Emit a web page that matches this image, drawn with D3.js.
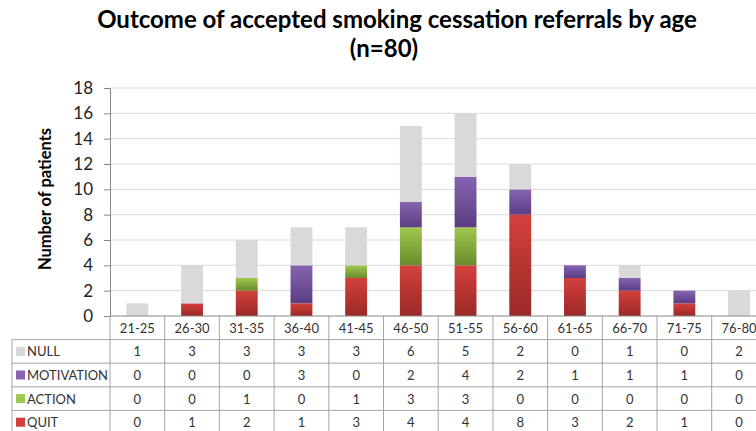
<!DOCTYPE html>
<html>
<head>
<meta charset="utf-8">
<script src="https://cdn.jsdelivr.net/npm/d3@7"></script>
<style>
  body { margin: 0; background: #fff; }
  svg { display: block; font-family: Lato, "Open Sans", sans-serif; }
</style>
</head>
<body>
<svg id="chart"></svg>
<script>
const categories = ["21-25", "26-30", "31-35", "36-40", "41-45", "46-50", "51-55", "56-60", "61-65", "66-70", "71-75", "76-80"];
const quitValues = [0, 1, 2, 1, 3, 4, 4, 8, 3, 2, 1, 0];
const actionValues = [0, 0, 1, 0, 1, 3, 3, 0, 0, 0, 0, 0];
const motivationValues = [0, 0, 0, 3, 0, 2, 4, 2, 1, 1, 1, 0];
const nullValues = [1, 3, 3, 3, 3, 6, 5, 2, 0, 1, 0, 2];
const yTicks = [0, 2, 4, 6, 8, 10, 12, 14, 16, 18];

// stacking order bottom -> top, table order top -> bottom
const seriesKeys = ["QUIT", "ACTION", "MOTIVATION", "NULL"];
const tableKeys = ["NULL", "MOTIVATION", "ACTION", "QUIT"];
const valuesByKey = {
    QUIT: quitValues, ACTION: actionValues, MOTIVATION: motivationValues, NULL: nullValues
};

const colors = {
    QUIT: ["#d3403c", "#9b2926"],
    ACTION: ["#a0c84e", "#6a8b2d"],
    MOTIVATION: ["#8763b0", "#5a3d83"],
    NULL: ["#d9d9d9", "#d9d9d9"]
};

const W = 756, H = 431;
const plotLeft = 110, plotBottom = 316, plotTop = 88;
const step = 54.7;
const rowH = 23.6;

const svg = d3.select("#chart").attr("width", W).attr("height", H);

const defs = svg.append("defs");
seriesKeys.forEach(k => {
    const g = defs.append("linearGradient")
        .attr("id", "grad-" + k)
        .attr("x1", 0).attr("y1", 0).attr("x2", 0).attr("y2", 1);
    g.append("stop").attr("offset", "0%").attr("stop-color", colors[k][0]);
    g.append("stop").attr("offset", "100%").attr("stop-color", colors[k][1]);
});

const rows = categories.map((c, i) => {
    const r = { cat: c };
    seriesKeys.forEach(k => r[k] = valuesByKey[k][i]);
    return r;
});
const stacked = d3.stack().keys(seriesKeys)(rows);

const x = d3.scaleBand()
    .domain(categories)
    .range([plotLeft, plotLeft + step * categories.length])
    .paddingInner(0.6)
    .paddingOuter(0.3);

const y = d3.scaleLinear().domain([0, 18]).range([plotBottom, plotTop]);

// title
svg.append("text")
    .attr("x", 397).attr("y", 28)
    .attr("text-anchor", "middle")
    .style("font-size", "24px").style("font-weight", "bold").style("fill", "#000")
    .text("Outcome of accepted smoking cessation referrals by age");
svg.append("text")
    .attr("x", 384).attr("y", 57)
    .attr("text-anchor", "middle")
    .style("font-size", "24px").style("font-weight", "bold").style("fill", "#000")
    .text("(n=80)");

// gridlines
svg.append("g")
    .selectAll("line")
    .data(yTicks.filter(d => d > 0))
    .join("line")
    .attr("x1", plotLeft).attr("x2", W)
    .attr("y1", d => y(d)).attr("y2", d => y(d))
    .attr("stroke", "#d9d9d9").attr("stroke-width", 1);

// y axis
const yAxis = svg.append("g")
    .attr("transform", `translate(${plotLeft},0)`)
    .call(d3.axisLeft(y).tickValues(yTicks).tickSize(6).tickPadding(11));
yAxis.select(".domain").attr("stroke", "#868686");
yAxis.selectAll(".tick line").attr("stroke", "#868686");
yAxis.selectAll(".tick text")
    .style("font-size", "17px").style("fill", "#222")
    .style("font-family", "Lato, sans-serif");

svg.append("text")
    .attr("transform", `translate(51, ${(plotTop + plotBottom) / 2 - 3}) rotate(-90)`)
    .attr("text-anchor", "middle")
    .style("font-size", "16.5px").style("font-weight", "bold").style("fill", "#000")
    .text("Number of patients");

// bars
svg.append("g")
    .selectAll("g")
    .data(stacked)
    .join("g")
    .attr("fill", d => `url(#grad-${d.key})`)
    .selectAll("rect")
    .data(d => d.filter(s => s[1] - s[0] > 0))
    .join("rect")
    .attr("x", d => x(d.data.cat))
    .attr("width", x.bandwidth())
    .attr("y", d => y(d[1]))
    .attr("height", d => y(d[0]) - y(d[1]));

// data table
const table = svg.append("g").style("font-size", "13px").style("fill", "#333");
const colLeft = c => x(c) - x.step() * 0.3;
const tableBottom = plotBottom + rowH * 5;
const gridColor = "#a6a6a6";

// horizontal row lines
for (let r = 1; r <= 4; r++) {
    table.append("line")
        .attr("x1", 12).attr("x2", W)
        .attr("y1", plotBottom + rowH * r).attr("y2", plotBottom + rowH * r)
        .attr("stroke", gridColor);
}
// vertical column lines
categories.forEach(c => {
    table.append("line")
        .attr("x1", colLeft(c)).attr("x2", colLeft(c))
        .attr("y1", plotBottom).attr("y2", tableBottom)
        .attr("stroke", gridColor);
});
table.append("line")
    .attr("x1", colLeft(categories[categories.length - 1]) + x.step())
    .attr("x2", colLeft(categories[categories.length - 1]) + x.step())
    .attr("y1", plotBottom).attr("y2", tableBottom)
    .attr("stroke", gridColor);
table.append("line")
    .attr("x1", 12).attr("x2", 12)
    .attr("y1", plotBottom + rowH).attr("y2", tableBottom)
    .attr("stroke", gridColor);

// axis line over the table lines
svg.append("line")
    .attr("x1", plotLeft).attr("x2", W)
    .attr("y1", plotBottom).attr("y2", plotBottom)
    .attr("stroke", "#868686");

// category header
table.selectAll(".cat")
    .data(categories)
    .join("text")
    .attr("class", "cat")
    .attr("x", d => x(d) + x.bandwidth() / 2)
    .attr("y", plotBottom + rowH / 2 + 5)
    .attr("text-anchor", "middle")
    .text(d => d);

// series rows
tableKeys.forEach((k, r) => {
    const cy = plotBottom + rowH * (r + 1) + rowH / 2;
    table.append("rect")
        .attr("x", 16).attr("y", cy - 4.5)
        .attr("width", 9).attr("height", 9)
        .attr("fill", colors[k][0]);
    table.append("text")
        .attr("x", 27).attr("y", cy + 5)
        .text(k);
    table.selectAll(".v-" + k)
        .data(valuesByKey[k])
        .join("text")
        .attr("class", "v-" + k)
        .attr("x", (d, i) => x(categories[i]) + x.bandwidth() / 2)
        .attr("y", cy + 5)
        .attr("text-anchor", "middle")
        .text(d => d);
});
</script>
</body>
</html>
